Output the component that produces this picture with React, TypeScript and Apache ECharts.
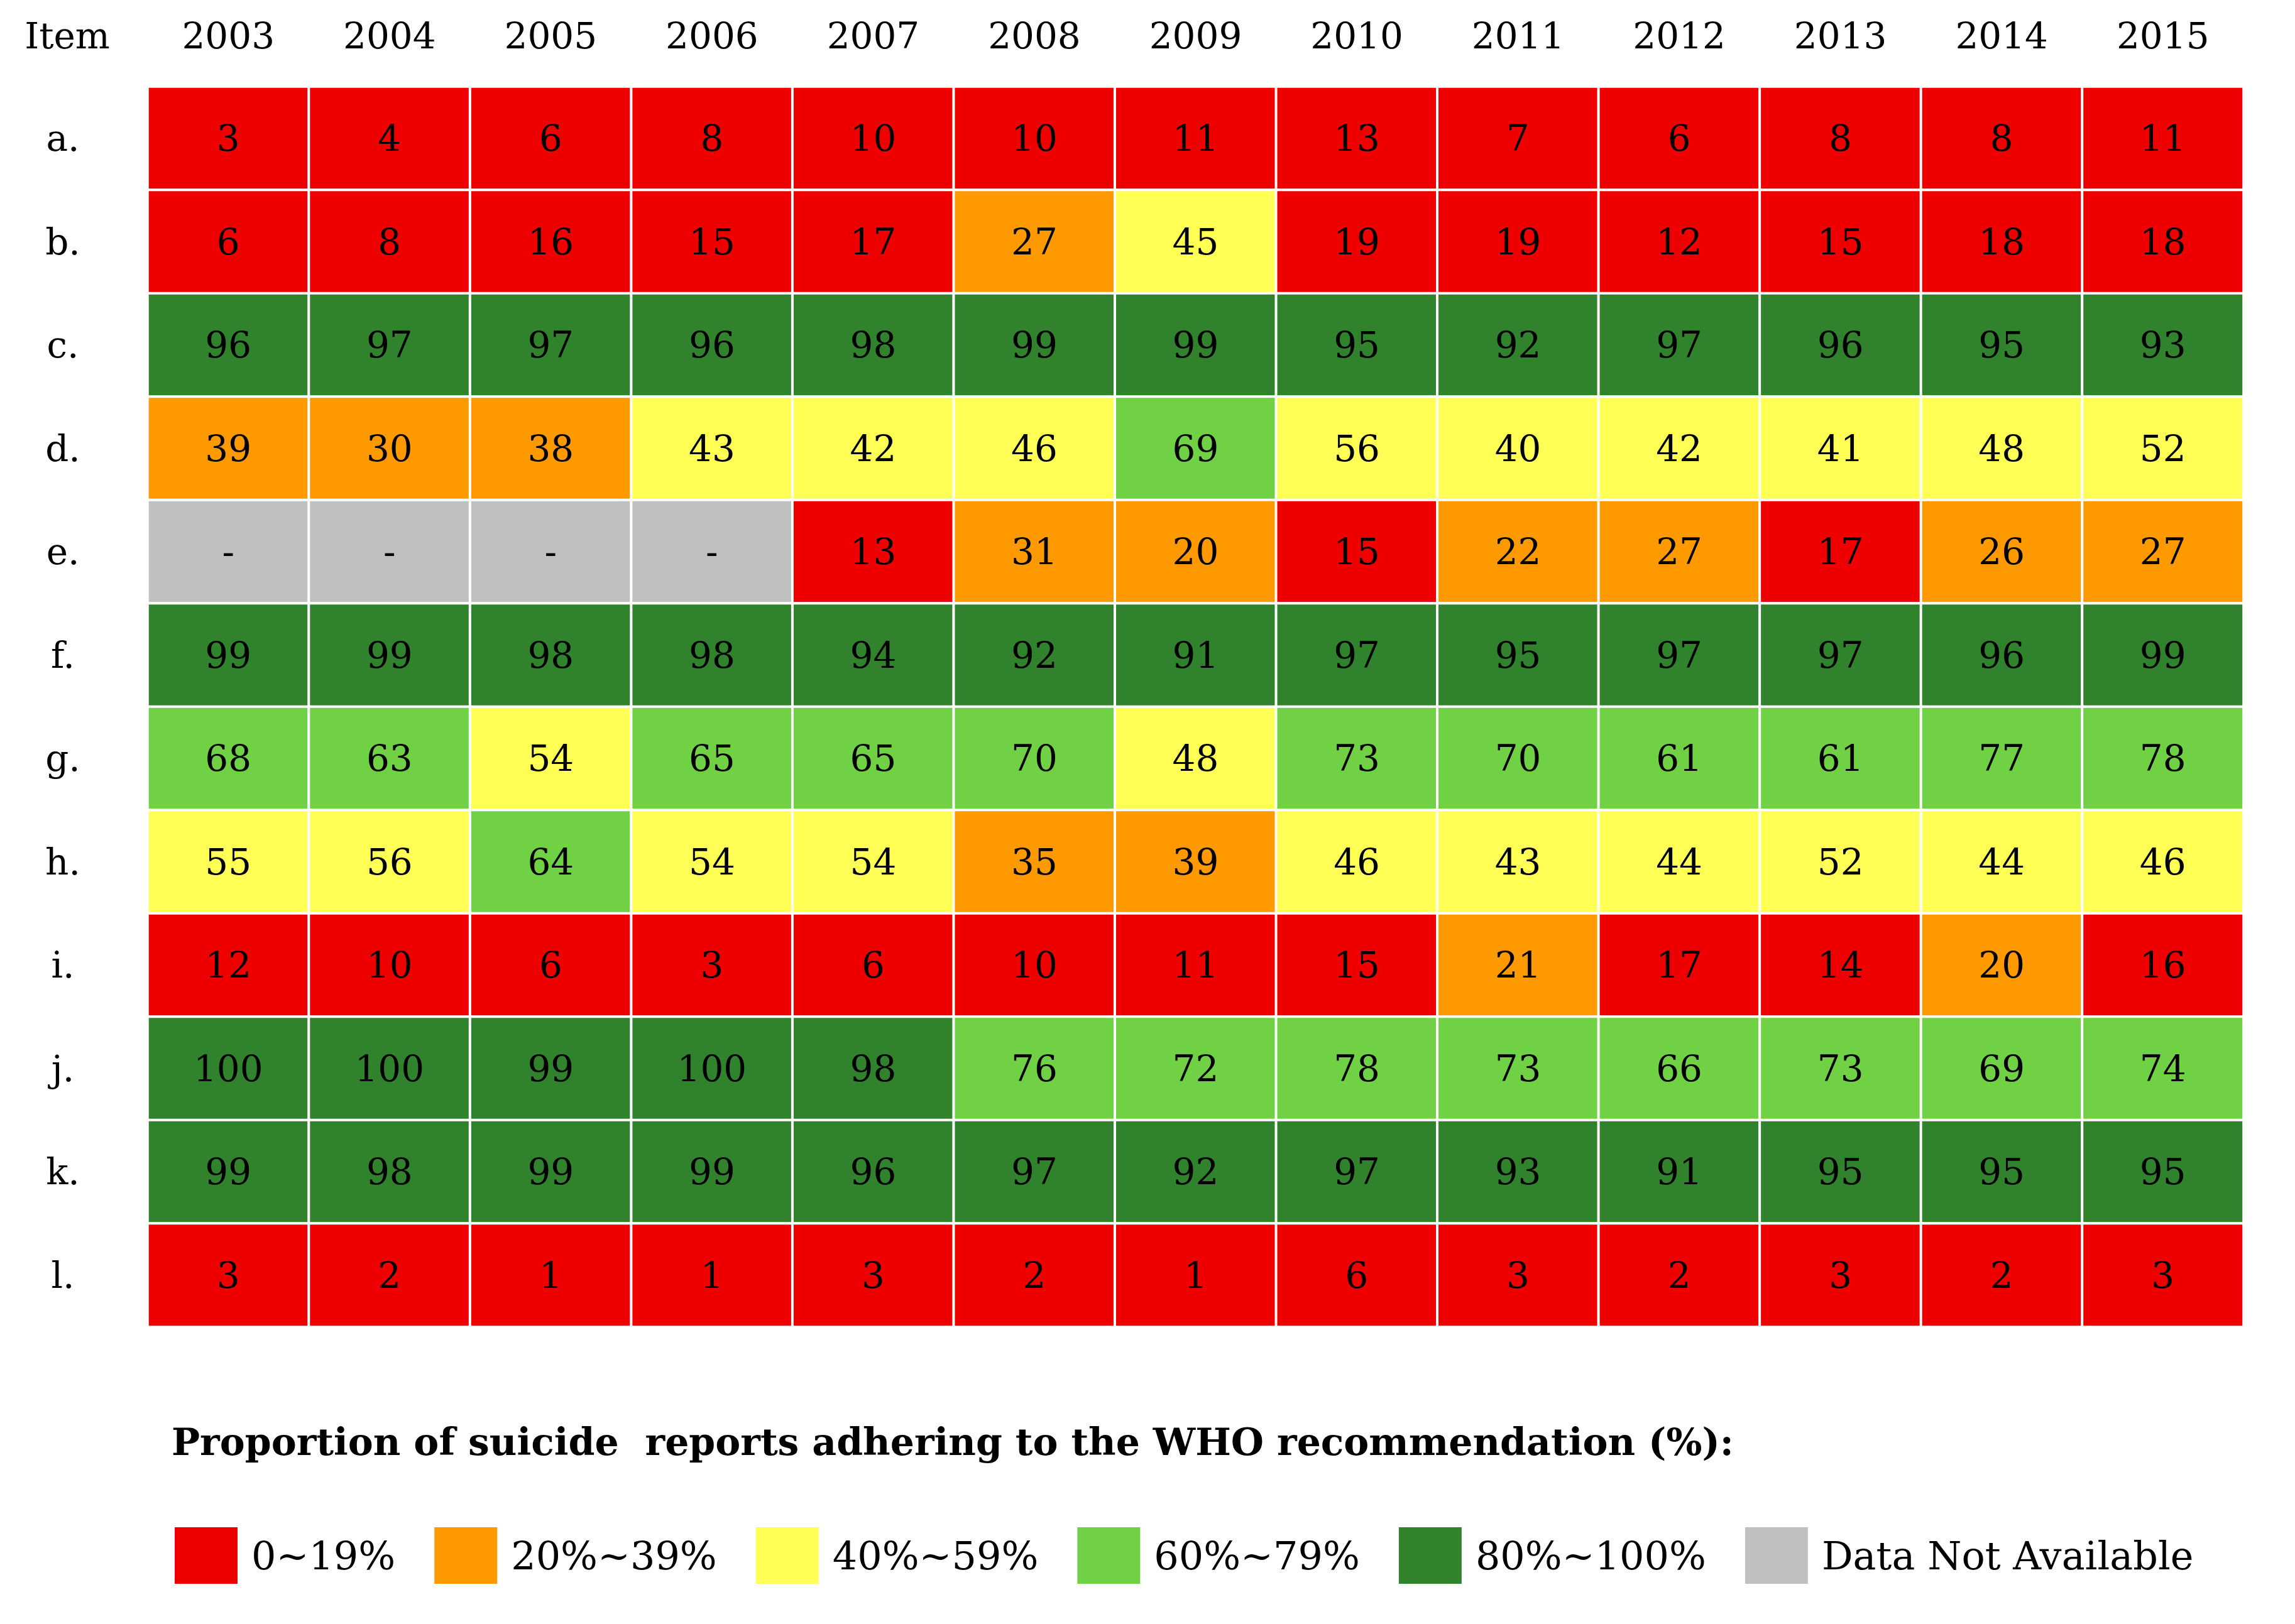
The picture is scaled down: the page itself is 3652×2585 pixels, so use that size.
import React, { useEffect, useRef } from "react";
import * as echarts from "echarts";

const years = ["2003", "2004", "2005", "2006", "2007", "2008", "2009", "2010", "2011", "2012", "2013", "2014", "2015"];
const items = ["a.", "b.", "c.", "d.", "e.", "f.", "g.", "h.", "i.", "j.", "k.", "l."];

const rowA = [3, 4, 6, 8, 10, 10, 11, 13, 7, 6, 8, 8, 11];
const rowB = [6, 8, 16, 15, 17, 27, 45, 19, 19, 12, 15, 18, 18];
const rowC = [96, 97, 97, 96, 98, 99, 99, 95, 92, 97, 96, 95, 93];
const rowD = [39, 30, 38, 43, 42, 46, 69, 56, 40, 42, 41, 48, 52];
const rowE = [null, null, null, null, 13, 31, 20, 15, 22, 27, 17, 26, 27];
const rowF = [99, 99, 98, 98, 94, 92, 91, 97, 95, 97, 97, 96, 99];
const rowG = [68, 63, 54, 65, 65, 70, 48, 73, 70, 61, 61, 77, 78];
const rowH = [55, 56, 64, 54, 54, 35, 39, 46, 43, 44, 52, 44, 46];
const rowI = [12, 10, 6, 3, 6, 10, 11, 15, 21, 17, 14, 20, 16];
const rowJ = [100, 100, 99, 100, 98, 76, 72, 78, 73, 66, 73, 69, 74];
const rowK = [99, 98, 99, 99, 96, 97, 92, 97, 93, 91, 95, 95, 95];
const rowL = [3, 2, 1, 1, 3, 2, 1, 6, 3, 2, 3, 2, 3];

const rows = [rowA, rowB, rowC, rowD, rowE, rowF, rowG, rowH, rowI, rowJ, rowK, rowL];

const legendLabels = ["0~19%", "20%~39%", "40%~59%", "60%~79%", "80%~100%", "Data Not Available"];
const legendColors = ["#EE0000", "#FF9900", "#FFFF55", "#6FD143", "#31822D", "#C0C0C0"];
const legendTitle = "Proportion of suicide  reports adhering to the WHO recommendation (%):";

// code used for "data not available" cells (kept above 100 so its legend piece sorts last)
const NA = 999;
const FONT = "DejaVu Serif";

export default function App() {
  const ref = useRef<HTMLDivElement>(null);
  useEffect(() => {
    if (!ref.current) return;
    const chart = echarts.init(ref.current, null, { renderer: "svg" });
    const data: any[] = [];
    rows.forEach((row, yi) => {
      row.forEach((v, xi) => {
        data.push([xi, yi, v === null ? NA : v]);
      });
    });
    chart.setOption({
      animation: false,
      backgroundColor: "#FFFFFF",
      title: {
        text: legendTitle,
        left: 268,
        top: 2260,
        textStyle: { fontFamily: FONT, fontWeight: "bold", fontSize: 60, color: "#000" },
      },
      graphic: [
        {
          type: "text",
          x: 107,
          y: 57,
          style: { text: "Item", fontFamily: FONT, fontSize: 58, fill: "#000", align: "center", verticalAlign: "middle" },
        },
      ],
      grid: { left: 235, right: 82, top: 138, bottom: 473 },
      xAxis: {
        type: "category",
        position: "top",
        data: years,
        axisLine: { show: false },
        axisTick: { show: false },
        splitLine: { show: false },
        axisLabel: { fontFamily: FONT, fontSize: 58, color: "#000", margin: 81, verticalAlign: "middle" },
      },
      yAxis: {
        type: "category",
        inverse: true,
        data: items,
        axisLine: { show: false },
        axisTick: { show: false },
        splitLine: { show: false },
        axisLabel: { fontFamily: FONT, fontSize: 58, color: "#000", margin: 135, align: "center" },
      },
      visualMap: {
        type: "piecewise",
        orient: "horizontal",
        left: 263,
        top: 2416,
        itemWidth: 100,
        itemHeight: 90,
        itemGap: 62,
        textGap: 22,
        itemSymbol: "rect",
        selectedMode: false,
        dimension: 2,
        textStyle: { fontFamily: FONT, fontSize: 62, color: "#000" },
        pieces: [
          { min: 0, max: 19, label: legendLabels[0], color: legendColors[0] },
          { min: 20, max: 39, label: legendLabels[1], color: legendColors[1] },
          { min: 40, max: 59, label: legendLabels[2], color: legendColors[2] },
          { min: 60, max: 79, label: legendLabels[3], color: legendColors[3] },
          { min: 80, max: 100, label: legendLabels[4], color: legendColors[4] },
          { value: NA, label: legendLabels[5], color: legendColors[5] },
        ],
      },
      series: [
        {
          type: "heatmap",
          data,
          itemStyle: { borderColor: "#FFFFFF", borderWidth: 4 },
          label: {
            show: true,
            fontFamily: FONT,
            fontSize: 58,
            color: "#000",
            formatter: (p: any) => (p.value[2] === NA ? "-" : String(p.value[2])),
          },
          emphasis: { disabled: true },
        },
      ],
    });
    return () => chart.dispose();
  }, []);
  return <div ref={ref} style={{ position: "fixed", left: 0, top: 0, width: 3652, height: 2585 }} />;
}
